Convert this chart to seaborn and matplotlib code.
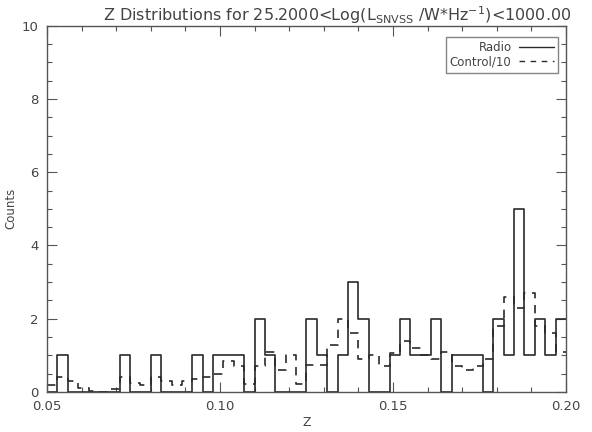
import numpy as np
import pandas as pd
import matplotlib
matplotlib.use("Agg")
import matplotlib.pyplot as plt
import seaborn as sns
from matplotlib.lines import Line2D
from matplotlib.ticker import MultipleLocator, FormatStrFormatter

# ---- data (bin counts, 50 bins of width 0.003 from 0.05 to 0.20) ----
bin_edges = [round(0.05 + 0.003 * i, 4) for i in range(51)]
radio_counts = [0, 1, 0, 0, 0, 0, 0, 1, 0, 0,
                1, 0, 0, 0, 1, 0, 1, 1, 1, 0,
                2, 1, 0, 0, 0, 2, 1, 0, 1, 3,
                2, 0, 0, 1, 2, 1, 1, 2, 0, 1,
                1, 1, 0, 2, 1, 5, 1, 2, 1, 2]
control_counts = [0.2, 0.4, 0.3, 0.1, 0.03, 0.0, 0.07, 0.4, 0.25, 0.2,
                  0.4, 0.3, 0.18, 0.3, 0.35, 0.4, 0.5, 0.85, 0.7, 0.22,
                  0.7, 1.1, 0.6, 1.0, 0.22, 0.73, 0.73, 1.27, 2.0, 1.6,
                  0.9, 1.0, 0.7, 1.07, 1.4, 1.2, 1.0, 0.9, 1.1, 0.7,
                  0.6, 0.7, 0.9, 1.8, 2.6, 2.3, 2.7, 1.8, 1.6, 1.1]
legend_labels = ["Radio", "Control/10"]

centers = [(bin_edges[i] + bin_edges[i + 1]) / 2 for i in range(50)]
df_radio = pd.DataFrame({"z": centers, "w": radio_counts})
df_ctrl = pd.DataFrame({"z": centers, "w": control_counts})

sns.set_style("ticks")
plt.rcParams["font.family"] = ["DejaVu Sans"]
txt = "#444444"
line_c = "#2a2a2a"

fig = plt.figure(figsize=(5.92, 4.32), dpi=100)
ax = fig.add_axes([47 / 592, 1 - 392 / 432, (566 - 47) / 592, (392 - 25.7) / 432])

sns.histplot(data=df_radio, x="z", weights="w", bins=bin_edges, element="step",
             fill=False, color=line_c, linewidth=1.2, ax=ax)
sns.histplot(data=df_ctrl, x="z", weights="w", bins=bin_edges, element="step",
             fill=False, color=line_c, linewidth=1.2, linestyle=(0, (5, 4)), ax=ax)

ax.set_xlim(0.05, 0.20)
ax.set_ylim(0, 10)
ax.xaxis.set_major_locator(MultipleLocator(0.05))
ax.xaxis.set_minor_locator(MultipleLocator(0.01))
ax.yaxis.set_major_locator(MultipleLocator(2))
ax.yaxis.set_minor_locator(MultipleLocator(0.5))
ax.xaxis.set_major_formatter(FormatStrFormatter("%.2f"))
ax.yaxis.set_major_formatter(FormatStrFormatter("%d"))
ax.tick_params(which="both", direction="in", top=True, right=True,
               color="#555555", labelcolor=txt, labelsize=9.5, width=0.8)
ax.tick_params(which="major", length=7, pad=6)
ax.tick_params(which="minor", length=3.5)
for s in ax.spines.values():
    s.set_color("#555555")
    s.set_linewidth(1.0)

ax.set_xlabel("Z", color=txt, fontsize=9, labelpad=2)
ax.set_ylabel("Counts", color=txt, fontsize=8.5, labelpad=3)
ax.set_title(r"Z Distributions for 25.2000<Log(L$_{\rm SNVSS}$ /W*Hz$^{-1}$)<1000.00",
             color=txt, fontsize=11.5, pad=3, x=0.56)

handles = [Line2D([], [], color=line_c, lw=1.0),
           Line2D([], [], color=line_c, lw=1.0, linestyle=(0, (4, 4)))]
leg = ax.legend(handles, legend_labels, loc="upper right", markerfirst=False,
                bbox_to_anchor=(0.985, 0.97),
                fontsize=8.5, frameon=True, fancybox=False, borderaxespad=0.0,
                handlelength=3.0, handletextpad=0.6, labelspacing=0.15,
                borderpad=0.35)
leg.get_frame().set_edgecolor("#666666")
leg.get_frame().set_linewidth(1.0)
for t in leg.get_texts():
    t.set_color(txt)

fig.savefig("out.png", dpi=100)
